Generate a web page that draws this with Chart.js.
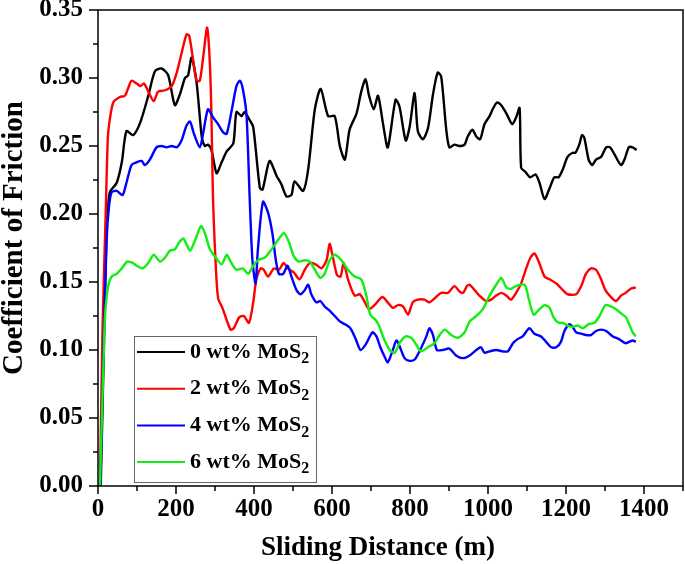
<!DOCTYPE html>
<html>
<head>
<meta charset="utf-8">
<script src="https://cdn.jsdelivr.net/npm/chart.js@4.4.1/dist/chart.umd.min.js"></script>
<style>
  html, body { margin: 0; padding: 0; background: #fff; }
  #wrap { width: 685px; height: 564px; }
</style>
</head>
<body>
<div id="wrap"><canvas id="cof" width="685" height="564"></canvas></div>
<script>
// Données : [distance (m), coefficient de frottement]
const seriesLabels = ['0 wt% MoS2', '2 wt% MoS2', '4 wt% MoS2', '6 wt% MoS2'];
const seriesColors = ['#000000', '#ff0000', '#0000ff', '#11ee11'];

const mos0 = [[7,0],[15,0.10],[22,0.19],[28,0.212],[32,0.217],[48,0.223],[61,0.238],[73,0.261],[90,0.258],[108,0.267],[129,0.287],[146,0.305],[163,0.307],[180,0.302],[197,0.280],[210,0.288],[223,0.300],[231,0.302],[240,0.315],[253,0.296],[266,0.257],[274,0.250],[282,0.251],[291,0.247],[304,0.230],[317,0.238],[330,0.246],[347,0.252],[355,0.275],[368,0.272],[376,0.275],[389,0.269],[398,0.264],[415,0.219],[422,0.218],[440,0.239],[458,0.228],[470,0.222],[483,0.213],[496,0.214],[504,0.224],[526,0.217],[539,0.233],[556,0.277],[571,0.292],[590,0.272],[607,0.272],[620,0.250],[633,0.240],[645,0.262],[663,0.274],[675,0.290],[686,0.299],[695,0.287],[707,0.277],[718,0.287],[731,0.266],[743,0.249],[763,0.284],[773,0.279],[789,0.254],[799,0.264],[812,0.289],[820,0.261],[833,0.255],[846,0.263],[859,0.288],[871,0.304],[880,0.301],[893,0.262],[901,0.249],[914,0.251],[927,0.250],[940,0.251],[948,0.257],[960,0.262],[970,0.257],[980,0.255],[991,0.266],[1004,0.272],[1012,0.277],[1023,0.282],[1034,0.280],[1047,0.274],[1062,0.266],[1072,0.271],[1081,0.278],[1085,0.234],[1096,0.231],[1108,0.227],[1122,0.229],[1132,0.223],[1145,0.211],[1158,0.219],[1170,0.227],[1181,0.227],[1192,0.233],[1204,0.242],[1217,0.245],[1224,0.245],[1234,0.251],[1241,0.258],[1247,0.256],[1258,0.240],[1267,0.236],[1277,0.240],[1290,0.242],[1303,0.249],[1313,0.249],[1324,0.244],[1341,0.236],[1350,0.240],[1361,0.249],[1371,0.249],[1381,0.247]];

const mos2 = [[5,0],[12,0.12],[20,0.203],[25,0.255],[29,0.267],[39,0.282],[56,0.286],[69,0.287],[78,0.293],[86,0.298],[99,0.296],[109,0.294],[118,0.296],[129,0.290],[143,0.283],[154,0.290],[172,0.291],[189,0.294],[202,0.304],[214,0.318],[227,0.332],[234,0.331],[244,0.313],[253,0.298],[261,0.298],[270,0.316],[280,0.337],[289,0.294],[295,0.211],[302,0.162],[308,0.138],[319,0.131],[330,0.122],[340,0.115],[348,0.116],[362,0.124],[374,0.125],[387,0.120],[398,0.135],[406,0.152],[417,0.160],[425,0.159],[436,0.154],[451,0.160],[464,0.159],[476,0.164],[487,0.160],[502,0.157],[517,0.152],[530,0.159],[543,0.164],[558,0.163],[573,0.160],[586,0.166],[594,0.178],[601,0.170],[613,0.155],[622,0.154],[630,0.164],[641,0.152],[658,0.140],[671,0.141],[679,0.138],[695,0.130],[709,0.133],[729,0.139],[743,0.135],[756,0.131],[769,0.133],[782,0.132],[795,0.126],[807,0.135],[820,0.137],[837,0.137],[850,0.135],[867,0.139],[880,0.142],[897,0.142],[914,0.147],[927,0.143],[936,0.142],[946,0.147],[953,0.148],[966,0.144],[978,0.140],[995,0.136],[1008,0.137],[1021,0.140],[1034,0.142],[1047,0.140],[1059,0.137],[1072,0.142],[1085,0.149],[1098,0.160],[1109,0.168],[1119,0.171],[1130,0.165],[1145,0.154],[1158,0.152],[1175,0.149],[1192,0.144],[1204,0.141],[1226,0.141],[1239,0.147],[1251,0.156],[1264,0.160],[1277,0.159],[1290,0.152],[1301,0.144],[1315,0.139],[1328,0.136],[1341,0.140],[1353,0.142],[1366,0.145],[1379,0.146]];

const mos4 = [[6,0],[14,0.10],[22,0.18],[28,0.205],[35,0.216],[48,0.217],[63,0.214],[73,0.223],[86,0.236],[99,0.238],[112,0.239],[120,0.236],[133,0.240],[150,0.249],[163,0.250],[176,0.249],[189,0.250],[202,0.249],[214,0.254],[227,0.265],[236,0.268],[246,0.259],[261,0.249],[270,0.260],[282,0.277],[295,0.271],[308,0.266],[321,0.260],[330,0.259],[342,0.275],[355,0.294],[364,0.298],[372,0.291],[381,0.272],[389,0.211],[396,0.166],[404,0.149],[410,0.174],[423,0.209],[436,0.201],[447,0.186],[456,0.166],[464,0.156],[475,0.156],[486,0.162],[496,0.154],[509,0.144],[519,0.141],[530,0.144],[539,0.148],[547,0.141],[560,0.135],[570,0.136],[581,0.132],[594,0.129],[607,0.125],[620,0.121],[633,0.119],[647,0.116],[661,0.108],[673,0.100],[686,0.104],[704,0.113],[714,0.110],[724,0.102],[735,0.095],[743,0.091],[756,0.100],[765,0.107],[773,0.103],[786,0.094],[799,0.092],[812,0.093],[826,0.100],[842,0.110],[850,0.116],[859,0.111],[869,0.100],[884,0.100],[901,0.101],[918,0.096],[936,0.094],[953,0.096],[970,0.100],[982,0.102],[991,0.098],[1004,0.099],[1021,0.100],[1038,0.099],[1051,0.099],[1064,0.105],[1076,0.108],[1089,0.110],[1106,0.116],[1119,0.112],[1136,0.110],[1149,0.106],[1162,0.102],[1175,0.102],[1187,0.106],[1196,0.114],[1209,0.119],[1217,0.117],[1226,0.113],[1239,0.112],[1251,0.111],[1264,0.111],[1277,0.114],[1290,0.115],[1303,0.114],[1320,0.110],[1336,0.108],[1352,0.105],[1362,0.106],[1371,0.107],[1379,0.106]];

const mos6 = [[5,0],[10,0.05],[14,0.09],[18,0.125],[26,0.147],[35,0.154],[48,0.156],[61,0.160],[75,0.165],[89,0.164],[99,0.162],[114,0.160],[129,0.164],[143,0.170],[159,0.165],[172,0.168],[184,0.173],[197,0.174],[208,0.179],[219,0.182],[236,0.173],[248,0.180],[264,0.191],[274,0.186],[287,0.174],[302,0.168],[317,0.163],[330,0.170],[342,0.164],[355,0.159],[371,0.160],[385,0.156],[398,0.162],[410,0.166],[428,0.168],[445,0.174],[462,0.181],[477,0.186],[490,0.179],[502,0.169],[515,0.165],[530,0.166],[543,0.165],[556,0.159],[570,0.153],[581,0.156],[594,0.166],[607,0.170],[624,0.166],[641,0.159],[658,0.154],[675,0.152],[688,0.140],[698,0.126],[712,0.122],[722,0.117],[732,0.109],[748,0.100],[761,0.098],[773,0.105],[789,0.110],[803,0.109],[816,0.104],[828,0.099],[846,0.102],[863,0.105],[876,0.111],[889,0.115],[906,0.111],[923,0.109],[940,0.113],[953,0.121],[970,0.125],[987,0.130],[1004,0.140],[1021,0.148],[1034,0.153],[1047,0.146],[1059,0.145],[1072,0.147],[1094,0.148],[1105,0.137],[1117,0.126],[1132,0.130],[1145,0.133],[1158,0.131],[1168,0.124],[1181,0.120],[1192,0.120],[1204,0.118],[1217,0.117],[1230,0.118],[1243,0.116],[1258,0.119],[1273,0.120],[1286,0.125],[1301,0.133],[1315,0.132],[1328,0.130],[1341,0.127],[1354,0.124],[1362,0.119],[1371,0.113],[1379,0.110]];

// Axes
const xMin = 0, xMax = 1500, xStep = 100, xLabelStep = 200, xLabelMax = 1400;
const yMin = 0, yMax = 0.35, yStep = 0.025, yLabelStep = 0.05;
const xTitle = 'Sliding Distance (m)';
const yTitle = 'Coefficient of Friction';

const FONT = '"Liberation Serif", "Times New Roman", serif';

const allSeries = [mos0, mos2, mos4, mos6];

function isMultiple(v, step) {
    const r = v / step;
    return Math.abs(r - Math.round(r)) < 1e-6;
}

// Cadre, graduations, titres et légende
const framePlugin = {
    id: 'frame',
    afterDraw(chart) {
        const ctx = chart.ctx;
        const a = chart.chartArea;
        const xs = chart.scales.x, ys = chart.scales.y;
        ctx.save();
        ctx.strokeStyle = '#000';
        ctx.lineWidth = 1.5;
        ctx.strokeRect(a.left, a.top, a.right - a.left, a.bottom - a.top);

        // graduations
        ctx.beginPath();
        xs.ticks.forEach(t => {
            const px = xs.getPixelForValue(t.value);
            const len = isMultiple(t.value, xLabelStep) ? 8 : 5;
            ctx.moveTo(px, a.bottom);
            ctx.lineTo(px, a.bottom + len);
        });
        ys.ticks.forEach(t => {
            const py = ys.getPixelForValue(t.value);
            const len = isMultiple(t.value, yLabelStep) ? 9 : 5;
            ctx.moveTo(a.left, py);
            ctx.lineTo(a.left - len, py);
        });
        ctx.stroke();

        // titres des axes
        ctx.fillStyle = '#000';
        ctx.textAlign = 'center';
        ctx.textBaseline = 'middle';
        ctx.font = 'bold 27px ' + FONT;
        ctx.fillText(xTitle, 378, 548);
        ctx.save();
        ctx.translate(15, 238);
        ctx.rotate(-Math.PI / 2);
        ctx.font = 'bold 29px ' + FONT;
        ctx.fillText(yTitle, 0, 0);
        ctx.restore();

        // légende
        const bx = 134, by = 336, bw = 182, bh = 146;
        ctx.fillStyle = '#fff';
        ctx.fillRect(bx, by, bw, bh);
        ctx.strokeStyle = '#666';
        ctx.lineWidth = 1;
        ctx.strokeRect(bx + 0.5, by + 0.5, bw, bh);
        chart.data.datasets.forEach((ds, i) => {
            const cy = 352 + i * 36.7;
            ctx.strokeStyle = ds.borderColor;
            ctx.lineWidth = 2;
            ctx.beginPath();
            ctx.moveTo(137, cy);
            ctx.lineTo(185, cy);
            ctx.stroke();
            const label = ds.label;
            const main = label.slice(0, -1);
            const sub = label.slice(-1);
            ctx.fillStyle = '#000';
            ctx.textAlign = 'left';
            ctx.textBaseline = 'middle';
            ctx.font = 'bold 22px ' + FONT;
            ctx.fillText(main, 190, cy);
            const w = ctx.measureText(main).width;
            ctx.font = 'bold 16px ' + FONT;
            ctx.fillText(sub, 190 + w, cy + 7);
        });
        ctx.restore();
    }
};

const datasets = allSeries.map((s, i) => ({
    label: seriesLabels[i],
    data: s.map(p => ({ x: p[0], y: p[1] })),
    borderColor: seriesColors[i],
    backgroundColor: seriesColors[i],
    borderWidth: 2.4,
    pointRadius: 0,
    tension: 0.25,
    fill: false,
    order: allSeries.length - i
}));

new Chart(document.getElementById('cof').getContext('2d'), {
    type: 'line',
    data: { datasets },
    options: {
        responsive: false,
        animation: false,
        layout: { padding: { top: 10, right: 2, left: 0, bottom: 0 } },
        plugins: {
            legend: { display: false },
            tooltip: { enabled: false }
        },
        scales: {
            x: {
                type: 'linear',
                min: xMin,
                max: xMax,
                grid: { display: false, drawTicks: false },
                border: { display: false },
                afterFit: s => {
                    s.height = 564 - 10 - 476;
                    s.paddingLeft = 0; s.paddingRight = 0;
                    s.paddingTop = 0; s.paddingBottom = 0;
                },
                ticks: {
                    stepSize: xStep,
                    autoSkip: false,
                    maxRotation: 0,
                    padding: 9,
                    color: '#000',
                    font: { family: FONT, size: 25, weight: 'bold' },
                    callback: v => (isMultiple(v, xLabelStep) && v <= xLabelMax) ? String(v) : ''
                }
            },
            y: {
                type: 'linear',
                min: yMin,
                max: yMax,
                grid: { display: false, drawTicks: false },
                border: { display: false },
                afterFit: s => {
                    s.width = 98;
                    s.paddingLeft = 0; s.paddingRight = 0;
                    s.paddingTop = 0; s.paddingBottom = 0;
                },
                ticks: {
                    stepSize: yStep,
                    autoSkip: false,
                    padding: 15,
                    color: '#000',
                    font: { family: FONT, size: 25, weight: 'bold' },
                    callback: v => isMultiple(v, yLabelStep) ? v.toFixed(2) : ''
                }
            }
        }
    },
    plugins: [framePlugin]
});
</script>
</body>
</html>
